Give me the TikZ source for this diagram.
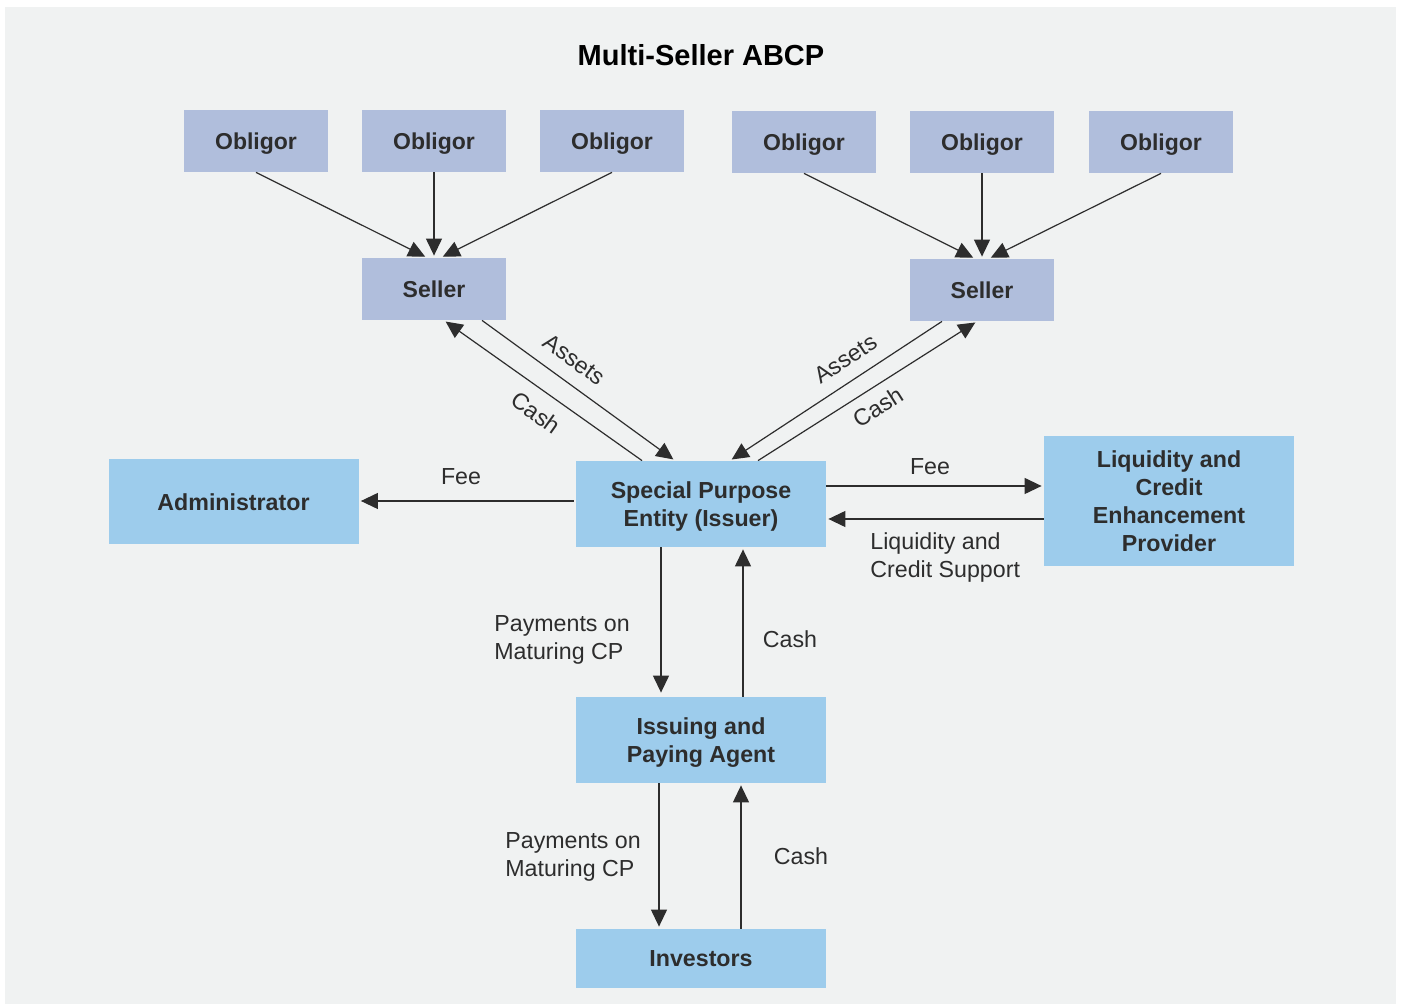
\documentclass[tikz,border=0pt]{standalone}
\usepackage{fontspec}
\setmainfont{Liberation Sans}
\usetikzlibrary{positioning, arrows.meta, calc}
\definecolor{PageColor}{RGB}{240,242,242}
\definecolor{PartyColor}{RGB}{176,190,220}
\definecolor{EntityColor}{RGB}{157,204,236}
\definecolor{InkColor}{RGB}{45,45,45}
\tikzset{
  party/.style={rectangle, fill=PartyColor, minimum width=72pt, minimum height=31pt, inner sep=0pt, text depth=0pt, font=\fontsize{11.5}{13}\selectfont\bfseries, text=InkColor},
  entity/.style={rectangle, fill=EntityColor, minimum width=125pt, minimum height=43pt, inner sep=0pt, text depth=0pt, align=center, font=\fontsize{11.6}{14}\selectfont\bfseries, text=InkColor},
  flow/.style={line width=0.6pt, InkColor, -{Triangle[length=8.5pt,width=8pt]}, shorten >=1pt},
  tag/.style={font=\fontsize{11.6}{14}\selectfont, text=InkColor, inner sep=1pt}
}
\begin{document}
\begin{tikzpicture}[x=0.5pt, y=-0.5pt]
  % Page
  \useasboundingbox (0,0) rectangle (1401,1004);
  \fill[white] (0,0) rectangle (1401,1004);
  \fill[PageColor] (5,7) rectangle (1396,1004);

  % Title
  \node[font=\fontsize{14.5}{16}\selectfont\bfseries, text=black] (title) at (701,55) {Multi-Seller ABCP};

  % Obligors
  \node[party] (O1) at (256,141) {Obligor};
  \node[party] (O2) at (434,141) {Obligor};
  \node[party] (O3) at (612,141) {Obligor};
  \node[party] (O4) at (804,142) {Obligor};
  \node[party] (O5) at (982,142) {Obligor};
  \node[party] (O6) at (1161,142) {Obligor};

  % Sellers
  \node[party] (S1) at (434,289) {Seller};
  \node[party] (S2) at (982,290) {Seller};

  % Entities
  \node[entity] (SPE) at (701,504) {Special Purpose\\Entity (Issuer)};
  \node[entity, minimum height=42.5pt] (ADM) at (233.5,502) {Administrator};
  \node[entity, minimum height=65pt] (LIQ) at (1169,501) {Liquidity and\\Credit\\Enhancement\\Provider};
  \node[entity] (IPA) at (701,740) {Issuing and\\Paying Agent};
  \node[entity, minimum height=29.5pt] (INV) at (701,958.5) {Investors};

  % Obligors to sellers
  \draw[flow] (O1.south) -- ($(S1.north)+(-7,0)$);
  \draw[flow] (O2.south) -- (S1.north);
  \draw[flow] (O3.south) -- ($(S1.north)+(7,0)$);
  \draw[flow] (O4.south) -- ($(S2.north)+(-7,0)$);
  \draw[flow] (O5.south) -- (S2.north);
  \draw[flow] (O6.south) -- ($(S2.north)+(7,0)$);

  % Sellers and SPE
  \draw[flow] ($(S1.south)+(48,0)$) -- node[tag, sloped, above=6pt, pos=0.41] (assets1) {Assets} ($(SPE.north)+(-26,0)$);
  \draw[flow] ($(SPE.north)+(-59,0)$) -- node[tag, sloped, below=5.5pt, pos=0.47] (cash1) {Cash} ($(S1.south)+(10,0)$);
  \draw[flow] ($(S2.south)+(-40,0)$) -- node[tag, sloped, above=5.5pt, pos=0.40] (assets2) {Assets} ($(SPE.north)+(29,0)$);
  \draw[flow] ($(SPE.north)+(57,0)$) -- node[tag, sloped, below=4pt, pos=0.50] (cash2) {Cash} ($(S2.south)+(-5,0)$);

  % Fees and support
  \coordinate (feeL) at ($(SPE.west)+(-2,-3)$);
  \draw[flow] (feeL) -- (feeL -| ADM.east);
  \node[tag] (fee1) at (461,477) {Fee};
  \coordinate (feeR) at ($(SPE.east)+(0,-18)$);
  \draw[flow] (feeR) -- (feeR -| LIQ.west);
  \node[tag] (fee2) at (930,467) {Fee};
  \coordinate (supp) at ($(LIQ.west)+(0,18)$);
  \draw[flow] (supp) -- (supp -| SPE.east);
  \node[tag, align=left, anchor=west] (support) at (868,558) {Liquidity and\\Credit Support};

  % SPE and agent
  \draw[flow] ($(SPE.south)+(-40,0)$) -- ($(IPA.north)+(-40,-2)$);
  \node[tag, align=left, anchor=west] (pay1) at (492,640) {Payments on\\Maturing CP};
  \draw[flow] ($(IPA.north)+(42,0)$) -- ($(SPE.south)+(42,0)$);
  \node[tag] (cash3) at (790,639) {Cash};

  % Agent and investors
  \draw[flow] ($(IPA.south)+(-42,0)$) -- ($(INV.north)+(-42,0)$);
  \node[tag, align=left, anchor=west] (pay2) at (503,857) {Payments on\\Maturing CP};
  \draw[flow] ($(INV.north)+(40,0)$) -- ($(IPA.south)+(40,0)$);
  \node[tag] (cash4) at (801,856) {Cash};
\end{tikzpicture}
\end{document}
